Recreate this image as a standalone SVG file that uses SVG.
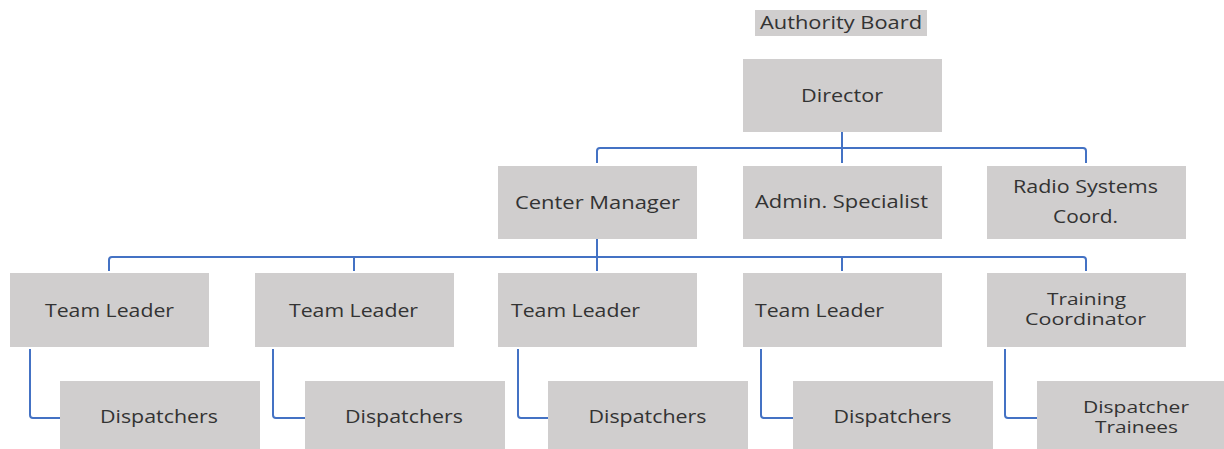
<svg xmlns="http://www.w3.org/2000/svg" width="1224" height="449" viewBox="0 0 1224 449">
<style>
.box{fill:#D0CECE;}
.t{font-family:"Open Sans","DejaVu Sans",sans-serif;font-size:18px;fill:#333333;}
.s{font-size:16.5px;}
.m{text-anchor:middle;}
.c{fill:none;stroke:#4472C4;stroke-width:2;}
</style>
<rect width="1224" height="449" fill="#FFFFFF"/>
<g id="connectors">
<path class="c" d="M597,163 V151 Q597,148 600,148 H1083 Q1086,148 1086,151 V163"/>
<path class="c" d="M842,132 V163"/>
<path class="c" d="M109,271 V260 Q109,257 112,257 H1083 Q1086,257 1086,260 V271"/>
<path class="c" d="M354,257 V271"/>
<path class="c" d="M597,239 V271"/>
<path class="c" d="M842,257 V271"/>
<path class="c" d="M30,349 V415 Q30,418 33,418 H60"/>
<path class="c" d="M273,349 V415 Q273,418 276,418 H305"/>
<path class="c" d="M518,349 V415 Q518,418 521,418 H548"/>
<path class="c" d="M761,349 V415 Q761,418 764,418 H793"/>
<path class="c" d="M1005,349 V415 Q1005,418 1008,418 H1037"/>
</g>
<g id="authority-board">
<rect class="box" x="755" y="10" width="172" height="26"/>
<text class="t m" x="841" y="29" textLength="162" lengthAdjust="spacingAndGlyphs">Authority Board</text>
</g>
<g id="director">
<rect class="box" x="743" y="59" width="199" height="73"/>
<text class="t m" x="842" y="102" textLength="82" lengthAdjust="spacingAndGlyphs">Director</text>
</g>
<g id="center-manager">
<rect class="box" x="498" y="166" width="199" height="73"/>
<text class="t m" x="597.5" y="209" textLength="165" lengthAdjust="spacingAndGlyphs">Center Manager</text>
</g>
<g id="admin-specialist">
<rect class="box" x="743" y="166" width="199" height="73"/>
<text class="t m" x="841.5" y="208" textLength="173" lengthAdjust="spacingAndGlyphs">Admin. Specialist</text>
</g>
<g id="radio-systems">
<rect class="box" x="987" y="166" width="199" height="73"/>
<text class="t m"><tspan x="1085.5" y="193" textLength="145" lengthAdjust="spacingAndGlyphs">Radio Systems</tspan><tspan x="1085.5" y="223" textLength="65" lengthAdjust="spacingAndGlyphs">Coord.</tspan></text>
</g>
<g id="team-leader-1">
<rect class="box" x="10" y="273" width="199" height="74"/>
<text class="t m" x="109.5" y="317" textLength="129" lengthAdjust="spacingAndGlyphs">Team Leader</text>
</g>
<g id="team-leader-2">
<rect class="box" x="255" y="273" width="199" height="74"/>
<text class="t m" x="353.5" y="317" textLength="129" lengthAdjust="spacingAndGlyphs">Team Leader</text>
</g>
<g id="team-leader-3">
<rect class="box" x="498" y="273" width="199" height="74"/>
<text class="t" x="511" y="317" textLength="129" lengthAdjust="spacingAndGlyphs">Team Leader</text>
</g>
<g id="team-leader-4">
<rect class="box" x="743" y="273" width="199" height="74"/>
<text class="t" x="755" y="317" textLength="129" lengthAdjust="spacingAndGlyphs">Team Leader</text>
</g>
<g id="training-coordinator">
<rect class="box" x="987" y="273" width="199" height="74"/>
<text class="t s m"><tspan x="1086.5" y="305" textLength="79" lengthAdjust="spacingAndGlyphs">Training</tspan><tspan x="1085.5" y="325" textLength="121" lengthAdjust="spacingAndGlyphs">Coordinator</tspan></text>
</g>
<g id="dispatchers-1">
<rect class="box" x="60" y="381" width="200" height="80"/>
<text class="t m" x="159" y="423" textLength="118" lengthAdjust="spacingAndGlyphs">Dispatchers</text>
</g>
<g id="dispatchers-2">
<rect class="box" x="305" y="381" width="200" height="80"/>
<text class="t m" x="404" y="423" textLength="118" lengthAdjust="spacingAndGlyphs">Dispatchers</text>
</g>
<g id="dispatchers-3">
<rect class="box" x="548" y="381" width="200" height="80"/>
<text class="t m" x="647.5" y="423" textLength="118" lengthAdjust="spacingAndGlyphs">Dispatchers</text>
</g>
<g id="dispatchers-4">
<rect class="box" x="793" y="381" width="200" height="80"/>
<text class="t m" x="892.5" y="423" textLength="118" lengthAdjust="spacingAndGlyphs">Dispatchers</text>
</g>
<g id="dispatcher-trainees">
<rect class="box" x="1037" y="381" width="200" height="80"/>
<text class="t s m"><tspan x="1136" y="413" textLength="106" lengthAdjust="spacingAndGlyphs">Dispatcher</tspan><tspan x="1136.5" y="433" textLength="83" lengthAdjust="spacingAndGlyphs">Trainees</tspan></text>
</g>
</svg>
